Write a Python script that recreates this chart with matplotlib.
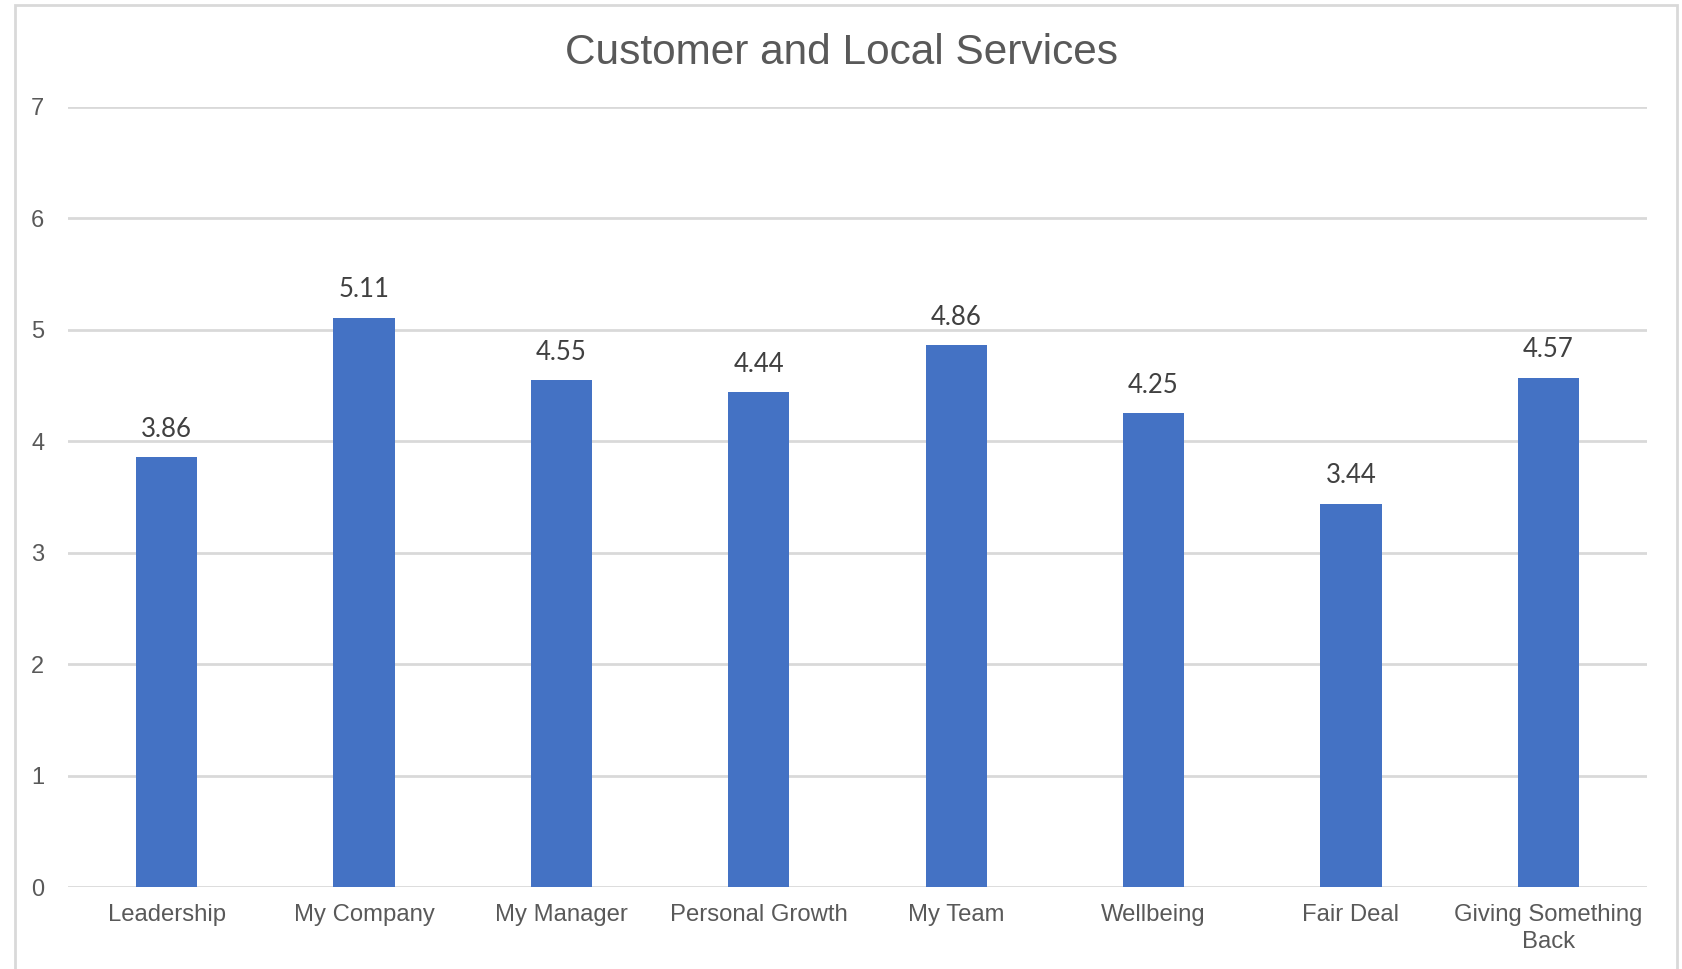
import numpy as np
import matplotlib.pyplot as plt
from matplotlib.patches import Rectangle

categories = ['Leadership', 'My Company', 'My Manager', 'Personal Growth',
              'My Team', 'Wellbeing', 'Fair Deal', 'Giving Something\nBack']
scores = [3.86, 5.11, 4.55, 4.44, 4.86, 4.25, 3.44, 4.57]
yticks = [0, 1, 2, 3, 4, 5, 6, 7]

bar_color = '#4472C4'
grid_color = '#D9D9D9'
text_color = '#595959'

fig = plt.figure(figsize=(16.83, 9.69), dpi=100)
ax = fig.add_axes([0.0404, 0.0846, 0.9382, 0.805])

# light frame round the whole chart
fig.patches.append(Rectangle((15 / 1683, -0.05), 1662 / 1683, 1.05 - 5 / 969,
                             transform=fig.transFigure, fill=False,
                             edgecolor=grid_color, linewidth=2))

x = np.arange(len(categories))
ax.bar(x, scores, width=0.31, color=bar_color, zorder=3)

for xi, v in zip(x, scores):
    ax.annotate('{:.2f}'.format(v), (xi, v), xytext=(0, 20), textcoords='offset points',
                ha='center', va='center', fontsize=18.5, color='#404040', family='Lato')

ax.set_xlim(-0.5, len(categories) - 0.5)
ax.set_ylim(0, 7)
ax.set_yticks(yticks)
ax.set_xticks(x)
ax.set_xticklabels(categories, fontsize=17.2, color=text_color, family='Liberation Sans',
                   linespacing=1.3)
ax.tick_params(axis='y', labelsize=17, labelcolor=text_color, length=0, pad=17)
ax.tick_params(axis='x', length=0, pad=12)
for lab in ax.get_yticklabels():
    lab.set_family('Liberation Sans')

ax.grid(axis='y', color=grid_color, linewidth=2, zorder=0)
for s in ax.spines.values():
    s.set_visible(False)

fig.text(0.5, 1 - 53 / 969, 'Customer and Local Services', ha='center', va='center',
         fontsize=30.5, color=text_color, family='Liberation Sans')

fig.savefig('out.png', dpi=100)
